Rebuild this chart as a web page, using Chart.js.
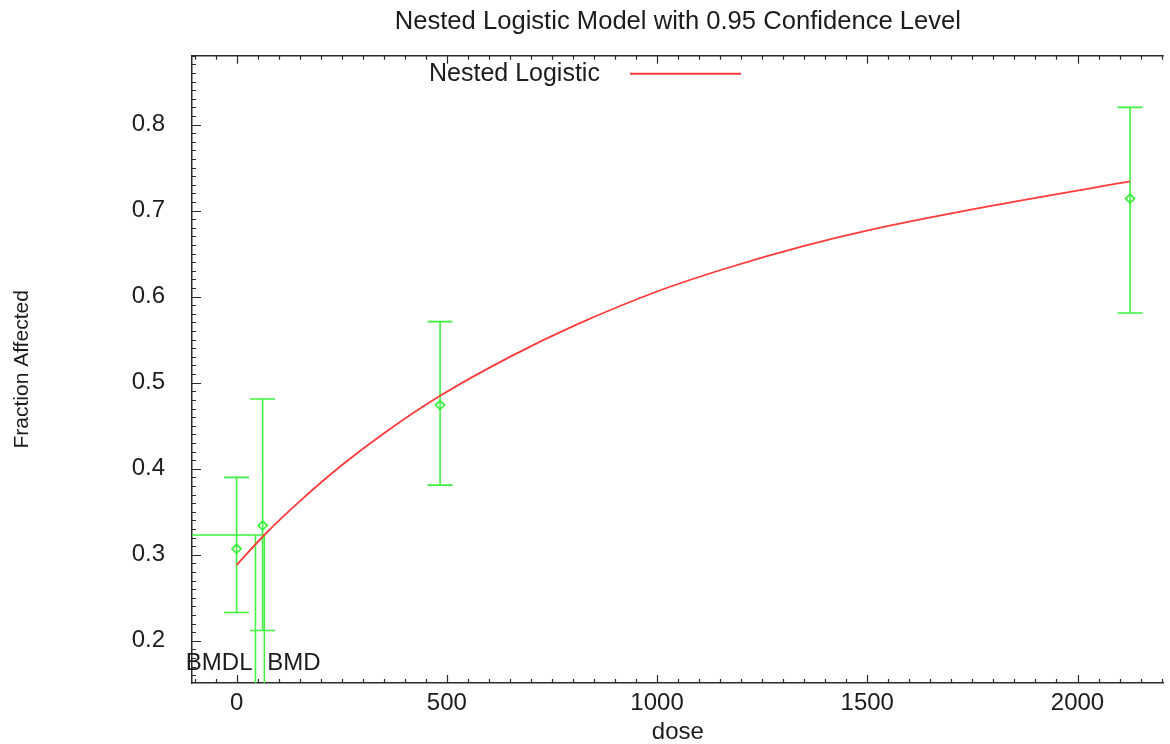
<!DOCTYPE html>
<html>
<head>
<meta charset="utf-8">
<title>Nested Logistic Model</title>
<script src="https://cdn.jsdelivr.net/npm/chart.js@4.4.1/dist/chart.umd.min.js"></script>
<style>
  html, body { margin: 0; padding: 0; background: #fff; overflow: hidden; }
  canvas { display: block; }
</style>
</head>
<body>
<canvas id="chart" width="1170" height="744"></canvas>
<script>
// fitted model curve
const curveDose = [0, 66, 150, 250, 350, 485, 650, 811, 1000, 1165, 1350, 1520, 1800, 2125];
const curveFrac = [0.288, 0.323, 0.362, 0.404, 0.441, 0.485, 0.530, 0.568, 0.606, 0.633, 0.659, 0.679, 0.706, 0.734];

// observed groups with 0.95 confidence limits
const obsDose = [0, 62, 484, 2125];
const obsFrac = [0.307, 0.334, 0.474, 0.714];
const obsLower = [0.233, 0.212, 0.381, 0.581];
const obsUpper = [0.390, 0.481, 0.571, 0.820];

// benchmark dose
const bmdValue = 66;
const bmdlValue = 45;
const bmdResponse = 0.323;

// axes
const xMin = -106, xMax = 2205;
const yMin = 0.151, yMax = 0.880;
const xTickLabels = [0, 500, 1000, 1500, 2000];
const yTickLabels = [0.2, 0.3, 0.4, 0.5, 0.6, 0.7, 0.8];
const xMinorStep = 50, yMinorStep = 0.01;

const red = '#ff3b3b';
const green = '#3ff03f';
const ink = '#1c1c1c';
const axisColor = '#2a2a2a';
const fontFamily = "'Liberation Sans', Arial, Helvetica, sans-serif";

// tick marks pointing into the plot, minor and major, plus top frame line
const frameTicks = {
    id: 'frameTicks',
    afterDraw(chart) {
        const ctx = chart.ctx;
        const area = chart.chartArea;
        const xs = chart.scales.x;
        const ys = chart.scales.y;
        ctx.save();
        ctx.strokeStyle = axisColor;
        ctx.lineWidth = 1.5;
        ctx.beginPath();
        ctx.moveTo(area.left, area.top);
        ctx.lineTo(area.right, area.top);
        ctx.stroke();

        ctx.lineWidth = 1.2;
        ctx.beginPath();
        for (let k = Math.ceil(xMin / xMinorStep); k * xMinorStep <= xMax; k++) {
            const v = k * xMinorStep;
            const px = Math.round(xs.getPixelForValue(v)) + 0.5;
            const len = xTickLabels.includes(v) ? 8 : 4;
            ctx.moveTo(px, area.bottom);
            ctx.lineTo(px, area.bottom - len);
            ctx.moveTo(px, area.top);
            ctx.lineTo(px, area.top + len);
        }
        for (let k = Math.ceil(yMin / yMinorStep); k * yMinorStep <= yMax; k++) {
            const py = Math.round(ys.getPixelForValue(k * yMinorStep)) + 0.5;
            const len = (k % 10 === 0) ? 9 : 4;
            ctx.moveTo(area.left, py);
            ctx.lineTo(area.left + len, py);
        }
        ctx.stroke();
        ctx.restore();
    }
};

// vertical confidence bars with caps
const errorBars = {
    id: 'errorBars',
    beforeDatasetsDraw(chart) {
        const ctx = chart.ctx;
        const xs = chart.scales.x;
        const ys = chart.scales.y;
        ctx.save();
        ctx.strokeStyle = green;
        ctx.lineWidth = 1.6;
        ctx.beginPath();
        obsDose.forEach((d, i) => {
            const px = xs.getPixelForValue(d);
            const lo = ys.getPixelForValue(obsLower[i]);
            const hi = ys.getPixelForValue(obsUpper[i]);
            ctx.moveTo(px, lo);
            ctx.lineTo(px, hi);
            ctx.moveTo(px - 12.5, hi);
            ctx.lineTo(px + 12.5, hi);
            ctx.moveTo(px - 12.5, lo);
            ctx.lineTo(px + 12.5, lo);
        });
        ctx.stroke();
        ctx.restore();
    }
};

// in-plot legend and BMD / BMDL labels
const annotations = {
    id: 'annotations',
    afterDraw(chart) {
        const ctx = chart.ctx;
        const area = chart.chartArea;
        const xs = chart.scales.x;
        ctx.save();
        ctx.font = '25px ' + fontFamily;
        ctx.fillStyle = ink;
        ctx.textBaseline = 'middle';
        ctx.textAlign = 'left';
        const lx = area.left + 237;
        const ly = area.top + 18;
        ctx.fillText(chart.data.datasets[0].label, lx, ly);
        ctx.strokeStyle = red;
        ctx.lineWidth = 2;
        ctx.beginPath();
        ctx.moveTo(lx + 201, ly);
        ctx.lineTo(lx + 312, ly);
        ctx.stroke();

        ctx.font = '24px ' + fontFamily;
        const by = area.bottom - 20;
        ctx.textAlign = 'right';
        ctx.fillText('BMDL', xs.getPixelForValue(bmdlValue) - 3, by);
        ctx.textAlign = 'left';
        ctx.fillText('BMD', xs.getPixelForValue(bmdValue) + 3, by);
        ctx.restore();
    }
};

const curvePoints = curveDose.map((d, i) => ({ x: d, y: curveFrac[i] }));
const obsPoints = obsDose.map((d, i) => ({ x: d, y: obsFrac[i] }));

const config = {
    type: 'scatter',
    data: {
        datasets: [{
            type: 'line',
            label: 'Nested Logistic',
            data: curvePoints,
            borderColor: red,
            borderWidth: 1.8,
            pointRadius: 0,
            cubicInterpolationMode: 'monotone',
            fill: false,
            order: 0
        }, {
            label: 'Observed',
            data: obsPoints,
            pointStyle: 'rectRot',
            pointRadius: 4.5,
            borderColor: green,
            backgroundColor: 'rgba(255,255,255,0)',
            borderWidth: 1.8,
            order: 1
        }, {
            type: 'line',
            label: 'BMD',
            data: [{ x: xMin, y: bmdResponse }, { x: bmdValue, y: bmdResponse }, { x: bmdValue, y: yMin }],
            borderColor: green,
            borderWidth: 1.5,
            pointRadius: 0,
            fill: false,
            order: 2
        }, {
            type: 'line',
            label: 'BMDL',
            data: [{ x: bmdlValue, y: bmdResponse }, { x: bmdlValue, y: yMin }],
            borderColor: green,
            borderWidth: 1.5,
            pointRadius: 0,
            fill: false,
            order: 2
        }]
    },
    options: {
        responsive: false,
        animation: false,
        devicePixelRatio: 1,
        layout: { padding: 0 },
        plugins: {
            legend: { display: false },
            tooltip: { enabled: false },
            title: {
                display: true,
                text: 'Nested Logistic Model with 0.95 Confidence Level',
                fullSize: false,
                color: ink,
                font: { family: fontFamily, size: 25.6, weight: 'normal', lineHeight: 1.2 },
                padding: { top: 7, bottom: 18 }
            }
        },
        scales: {
            x: {
                type: 'linear',
                min: xMin,
                max: xMax,
                afterBuildTicks: (scale) => { scale.ticks = xTickLabels.map(v => ({ value: v })); },
                afterFit: (scale) => { scale.height = 61; },
                grid: { display: false, drawTicks: false },
                border: { display: true, color: axisColor, width: 1.5 },
                ticks: {
                    maxRotation: 0,
                    autoSkip: false,
                    padding: 6,
                    color: ink,
                    font: { family: fontFamily, size: 24 },
                    callback: (v) => String(v)
                },
                title: {
                    display: true,
                    text: 'dose',
                    color: ink,
                    font: { family: fontFamily, size: 24, lineHeight: 1 },
                    padding: 0
                }
            },
            y: {
                type: 'linear',
                min: yMin,
                max: yMax,
                afterBuildTicks: (scale) => { scale.ticks = yTickLabels.map(v => ({ value: v })); },
                afterFit: (scale) => { scale.width = 192; },
                grid: { display: false, drawTicks: false },
                border: { display: true, color: axisColor, width: 1.5 },
                ticks: {
                    autoSkip: false,
                    padding: 27,
                    color: ink,
                    font: { family: fontFamily, size: 24 },
                    callback: (v) => Number(v).toFixed(1)
                },
                title: {
                    display: true,
                    text: 'Fraction Affected',
                    color: ink,
                    font: { family: fontFamily, size: 21, lineHeight: 1.2 },
                    padding: { top: 10, bottom: 0 }
                }
            }
        }
    },
    plugins: [errorBars, frameTicks, annotations]
};

new Chart(document.getElementById('chart'), config);
</script>
</body>
</html>
